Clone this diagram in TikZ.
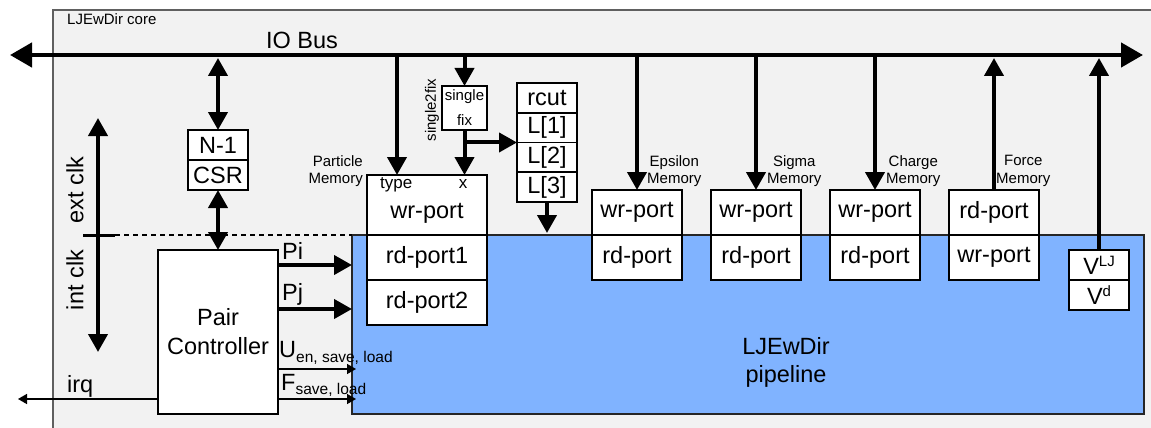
\documentclass[tikz,border=0pt]{standalone}
\usepackage{fontspec}
\setmainfont{Liberation Sans}
\usetikzlibrary{arrows.meta,calc}
\definecolor{coregray}{RGB}{242,242,242}
\definecolor{pipeblue}{RGB}{128,179,255}
\definecolor{edgegray}{RGB}{96,96,96}
\newcommand{\BigFnt}{\fontsize{23.5}{27}\selectfont}
\newcommand{\SmFnt}{\fontsize{15}{17.5}\selectfont}
\newcommand{\MidFnt}{\fontsize{17}{19}\selectfont}
\newcommand{\SubFnt}{\fontsize{15.5}{17}\selectfont}
\begin{document}
\begin{tikzpicture}[x=1pt,y=-1pt,
  cell/.style={draw, line width=1.6pt, fill=white, inner sep=0pt, outer sep=0pt, font=\BigFnt},
  bus/.style={line width=4.5pt, {Triangle[length=22pt,width=24pt]}-{Triangle[length=22pt,width=24pt]}},
  varr/.style={line width=4pt, -{Triangle[length=18pt,width=19pt]}},
  dvarr/.style={line width=4pt, {Triangle[length=18pt,width=19pt]}-{Triangle[length=18pt,width=19pt]}},
  tarr/.style={line width=1.5pt, -{Triangle[length=9pt,width=10pt]}},
  small/.style={font=\SmFnt, inner sep=0pt},
  mid/.style={font=\MidFnt, inner sep=0pt},
  big/.style={font=\BigFnt, inner sep=0pt},
  memlbl/.style={font=\SmFnt, inner sep=0pt, align=center, anchor=west}
]
\useasboundingbox (0,0) rectangle (1151,428);
% core background
\fill[coregray] (53,10) rectangle (1151,428);
\draw[edgegray, line width=1.3pt] (1151,10) -- (53,10) -- (53,428);
\node[small, anchor=base west] (corelbl) at (67,25) {LJEwDir core};

% pipeline
\node[draw=black!85, line width=1.3pt, fill=pipeblue, minimum width=792pt, minimum height=179pt, inner sep=0pt, outer sep=0pt] (pipe) at (748,324.5) {};
\node[big, align=center, font=\fontsize{23.5}{28}\selectfont] (pipelbl) at (786,362) {LJEwDir\\pipeline};

% bus
\coordinate (busL) at (10,55);
\coordinate (busR) at (1143,55);
\draw[bus] (busL) -- (busR);
\node[big] (iobus) at (302,40) {IO Bus};

% N-1 / CSR
\node[cell, minimum width=60pt, minimum height=30pt] (n1) at (218,145) {N-1};
\node[cell, minimum width=60pt, minimum height=30pt] (csr) at (218,175) {CSR};

% Pair controller
\node[cell, minimum width=120pt, minimum height=164pt, align=center, font=\fontsize{23.5}{29}\selectfont] (pc) at (218,332) {Pair\\Controller};

% particle memory
\node[cell, minimum width=120pt, minimum height=60pt] (pw) at (427,205) {};
\node[big] (pwtxt) at (427,213) {wr-port};
\node[mid, anchor=base west] (ptype) at (380,188) {type};
\node[mid, anchor=base] (px) at (463,188) {x};
\node[cell, minimum width=120pt, minimum height=45pt] (pr1) at (427,257.5) {rd-port1};
\node[cell, minimum width=120pt, minimum height=45pt] (pr2) at (427,302.5) {rd-port2};
\node[small, align=right, anchor=east] (plbl) at (363,171) {Particle\\Memory};

% single2fix
\node[cell, minimum width=45pt, minimum height=44pt, align=center, font=\fontsize{15}{25}\selectfont] (s2f) at (464.5,108) {single\\fix};
\node[small, rotate=90] (s2flbl) at (432,110) {single2fix};

% rcut stack
\node[cell, minimum width=60pt, minimum height=29.75pt] (rc) at (547,97.9) {rcut};
\node[cell, minimum width=60pt, minimum height=29.75pt] (l1) at (547,127.6) {L[1]};
\node[cell, minimum width=60pt, minimum height=29.75pt] (l2) at (547,157.4) {L[2]};
\node[cell, minimum width=60pt, minimum height=29.75pt] (l3) at (547,187.1) {L[3]};
\coordinate (lend) at (547,233);

% memories
\node[cell, minimum width=90pt, minimum height=45pt] (ew) at (637,212.5) {wr-port};
\node[cell, minimum width=90pt, minimum height=45pt] (er) at (637,257.5) {rd-port};
\node[memlbl] (elbl) at (647,171) {Epsilon\\Memory};
\node[cell, minimum width=90pt, minimum height=45pt] (sw) at (756,212.5) {wr-port};
\node[cell, minimum width=90pt, minimum height=45pt] (sr) at (756,257.5) {rd-port};
\node[memlbl] (slbl) at (767,171) {Sigma\\Memory};
\node[cell, minimum width=90pt, minimum height=45pt] (cw) at (875,212.5) {wr-port};
\node[cell, minimum width=90pt, minimum height=45pt] (cr) at (875,257.5) {rd-port};
\node[memlbl] (clbl) at (886,171) {Charge\\Memory};
\node[cell, minimum width=90pt, minimum height=45pt] (fr) at (994,212.5) {rd-port};
\node[cell, minimum width=90pt, minimum height=45pt] (fw) at (994,257.5) {wr-port};
\node[memlbl] (flbl) at (996,171) {Force\\Memory};

% V box
\node[cell, minimum width=60pt, minimum height=30pt] (vlj) at (1099,265) {V\raisebox{8pt}{\SmFnt LJ}};
\node[cell, minimum width=60pt, minimum height=30pt] (vd) at (1099,295) {V\raisebox{8pt}{\SmFnt d}};

% bus taps
\coordinate (tapN) at (218,58);
\coordinate (tapP) at (397,55);
\coordinate (ptop) at (397,175);
\draw[dvarr] (tapN) -- (n1.north);
\draw[varr] (tapP) -- (ptop);
\draw[varr] (s2f.north |- busL) -- (s2f.north);
\draw[varr] (s2f.south) -- (s2f.south |- pw.north);
\draw[varr] (s2f.south |- l1.south) -- (l1.south west);
\draw[varr] (l3.south) -- (lend);
\draw[varr] (ew.north |- busL) -- (ew.north);
\draw[varr] (sw.north |- busL) -- (sw.north);
\draw[varr] (cw.north |- busL) -- (cw.north);
\draw[varr] (fr.north) -- ($(fr.north |- busL)+(0,3)$);
\draw[varr] (vlj.north) -- ($(vlj.north |- busL)+(0,3)$);
\draw[dvarr] (csr.south) -- (pc.north);

% clocks
\coordinate (ck1) at (98,118);
\coordinate (ck2) at (98,352);
\coordinate (cbL) at (83,235);
\coordinate (cbR) at (115,235);
\draw[dvarr] (ck1) -- (ck2);
\draw[line width=3pt] (cbL) -- (cbR);
\draw[line width=1.3pt, dash pattern=on 5pt off 4pt] (cbR) -- (pipe.north west);
\node[big, rotate=90] (extclk) at (75,190) {ext clk};
\node[big, rotate=90] (intclk) at (75,280) {int clk};

% pair controller outputs
\coordinate (yPi) at (0,265);
\coordinate (yPj) at (0,309);
\coordinate (yU) at (0,369);
\coordinate (yF) at (0,399);
\coordinate (irqEnd) at (18,399);
\draw[varr] (pc.east |- yPi) -- (pipe.west |- yPi);
\draw[varr] (pc.east |- yPj) -- (pipe.west |- yPj);
\draw[tarr] (pc.east |- yU) -- ($(pipe.west |- yU)+(4,0)$);
\draw[tarr] (pc.east |- yF) -- ($(pipe.west |- yF)+(4,0)$);
\draw[tarr] (pc.west |- yF) -- (irqEnd);
\node[big, anchor=base west] (pilbl) at (282,259) {Pi};
\node[big, anchor=base west] (pjlbl) at (282,300) {Pj};
\node[big, anchor=base west] (ulbl) at (279,357) {U\raisebox{-5pt}{\SubFnt en, save, load}};
\node[big, anchor=base west] (flbl2) at (281,390) {F\raisebox{-4pt}{\SubFnt save, load}};
\node[big, anchor=base west] (irqlbl) at (67,392) {irq};
\end{tikzpicture}
\end{document}
